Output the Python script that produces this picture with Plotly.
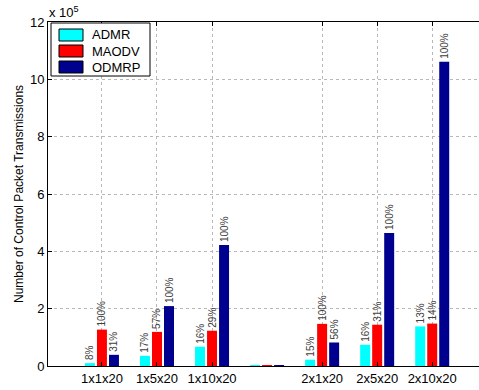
import plotly.graph_objects as go

# Scenario groups (position 4 is an empty spacer between the 1x and 2x groups)
categories = ["1x1x20", "1x5x20", "1x10x20", "", "2x1x20", "2x5x20", "2x10x20"]
positions = [1, 2, 3, 4, 5, 6, 7]

# Number of control packet transmissions per protocol
admr = [10000, 35500, 67000, 3000, 22000, 74000, 138000]
maodv = [127000, 119000, 123000, 3000, 147000, 144000, 148000]
odmrp = [39000, 209000, 422000, 3000, 82000, 464000, 1061000]

series = [("ADMR", admr, "#00FFFF"), ("MAODV", maodv, "#FF0000"), ("ODMRP", odmrp, "#00008F")]
ytick_vals = [0, 200000, 400000, 600000, 800000, 1000000, 1200000]
ytick_text = ["0", "2", "4", "6", "8", "10", "12"]

W, H = 479, 390
ML, MR, MT, MB = 48, 0, 22, 24
PW, PH = W - ML - MR, H - MT - MB


def px(x):
    return (x - ML) / PW


def py(y):
    return (H - MB - y) / PH


# Percent of the group maximum, shown above every bar of a non-spacer group
group_max = [max(a, m, o) for a, m, o in zip(admr, maodv, odmrp)]

fig = go.Figure()
for name, vals, color in series:
    labels = [
        "" if cat == "" else f"{round(v / gm * 100)}%"
        for v, gm, cat in zip(vals, group_max, categories)
    ]
    fig.add_trace(go.Bar(
        x=positions, y=vals, name=name, marker=dict(color=color, line=dict(width=0)),
        text=labels, textposition="outside", textangle=-90, constraintext="none",
        textfont=dict(family="Liberation Sans, Arial, sans-serif", size=10, color="#404040"),
        cliponaxis=False, showlegend=False,
    ))

fig.update_layout(
    width=W, height=H, margin=dict(l=ML, r=MR, t=MT, b=MB),
    paper_bgcolor="white", plot_bgcolor="white",
    barmode="group", bargap=0.345, bargroupgap=0.17,
    font=dict(family="Liberation Sans, Arial, sans-serif", size=13, color="black"),
    xaxis=dict(
        range=[0.02, 7.85], tickvals=[p for p, c in zip(positions, categories) if c],
        ticktext=[c for c in categories if c],
        showline=True, linecolor="black", linewidth=1, mirror="ticks",
        ticks="inside", ticklen=4, tickcolor="black",
        showgrid=True, gridcolor="#b8b8b8", griddash="dot", gridwidth=1,
        zeroline=False, tickfont=dict(size=13),
    ),
    yaxis=dict(
        range=[0, 1200000], tickvals=ytick_vals, ticktext=ytick_text,
        showline=True, linecolor="black", linewidth=1, mirror=False,
        ticks="inside", ticklen=4, tickcolor="black",
        showgrid=True, gridcolor="#b8b8b8", griddash="dot", gridwidth=1,
        zeroline=False, tickfont=dict(size=13),
    ),
)

# Axis title and scale factor
fig.add_annotation(
    text="Number of Control Packet Transmissions", textangle=-90,
    xref="paper", yref="paper", x=px(19), y=0.5, xanchor="center", yanchor="middle",
    showarrow=False, font=dict(size=12),
)
fig.add_annotation(
    text="x 10<sup>5</sup>", xref="paper", yref="paper", x=px(47), y=py(12),
    xanchor="left", yanchor="middle", showarrow=False, font=dict(size=13),
)

# Boxed legend in the upper left corner
fig.add_shape(type="rect", xref="paper", yref="paper",
              x0=px(51), x1=px(150), y0=py(76), y1=py(23),
              line=dict(color="black", width=1), fillcolor="white", layer="above")
for i, (name, _, color) in enumerate(series):
    cy = 35 + 16 * i
    fig.add_shape(type="rect", xref="paper", yref="paper",
                  x0=px(59), x1=px(83), y0=py(cy + 6), y1=py(cy - 6),
                  line=dict(color="black", width=1), fillcolor=color, layer="above")
    fig.add_annotation(text=name, xref="paper", yref="paper", x=px(90), y=py(cy),
                       xanchor="left", yanchor="middle", showarrow=False,
                       font=dict(size=13))

fig.write_html("out.html")
